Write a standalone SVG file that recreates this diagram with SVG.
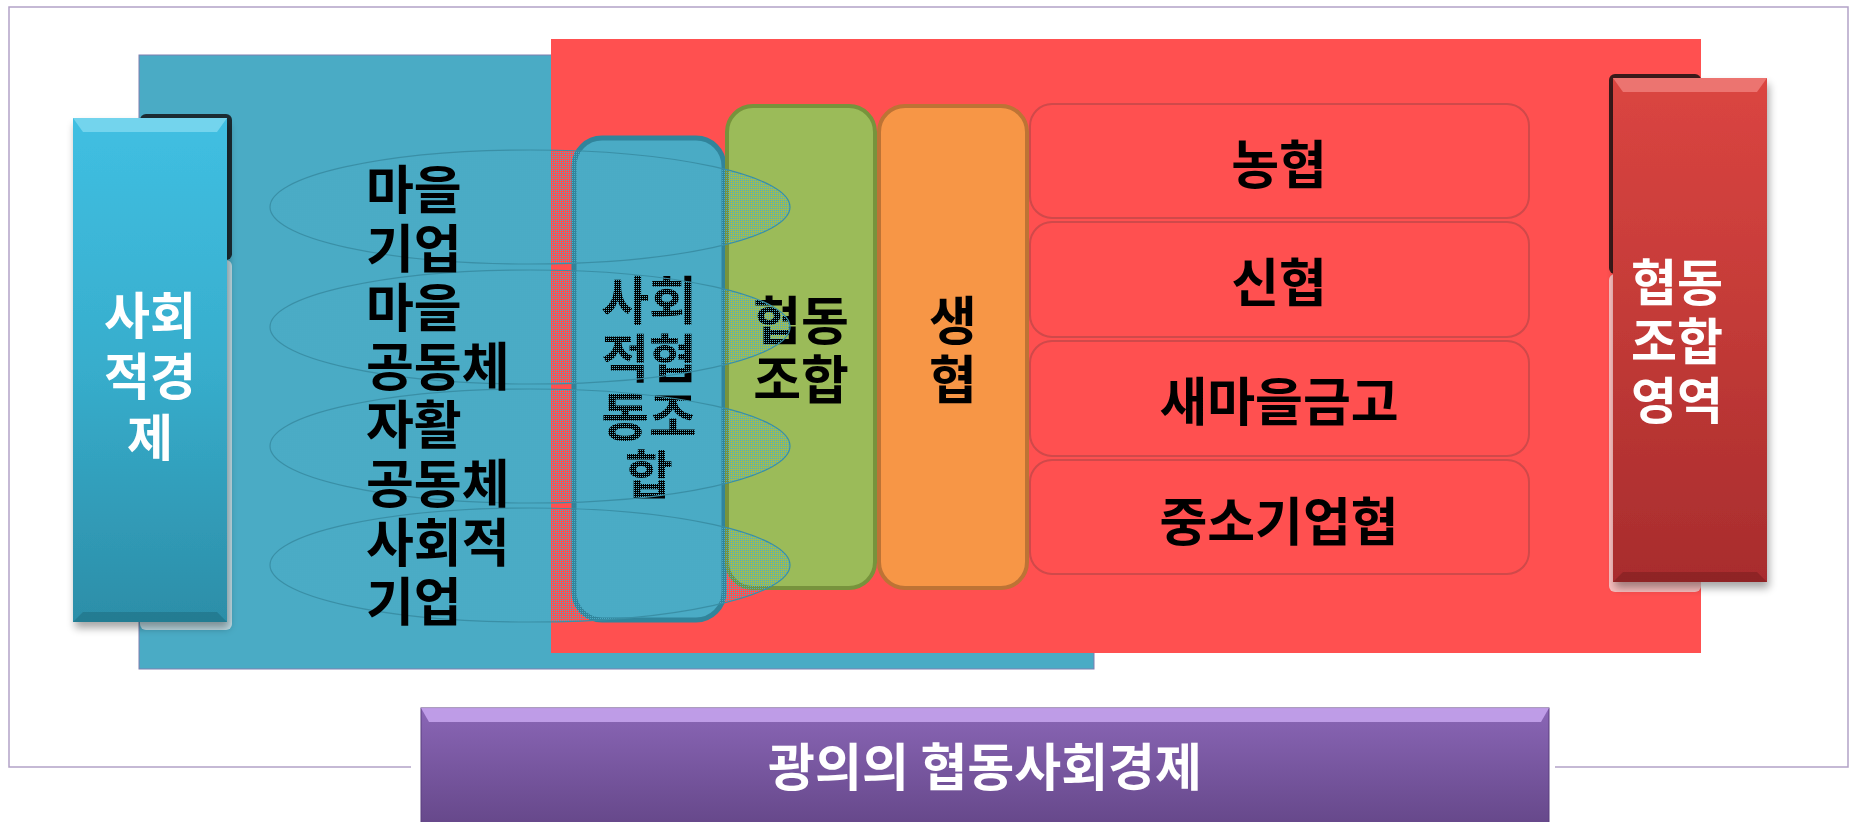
<svg xmlns="http://www.w3.org/2000/svg" width="1851" height="822" viewBox="0 0 1851 822">
<defs>
<style>
.k{font-family:"Noto Sans CJK KR","Noto Sans",sans-serif;font-weight:bold;font-size:52px;fill:#000}
.w{font-family:"Noto Sans CJK KR","Noto Sans",sans-serif;font-weight:bold;font-size:50px;fill:#fff}
.c{text-anchor:middle}
.box{fill:#FF5050;stroke:#D0494A;stroke-width:2}
.ell{fill:url(#dots);stroke:#3A8FA6;stroke-width:1.2}
</style>
<pattern id="dots" width="2" height="2" patternUnits="userSpaceOnUse">
<rect x="0" y="0" width="1" height="1" fill="#4BACC6"/>
</pattern>
<linearGradient id="gBlue" x1="0" y1="0" x2="0" y2="1">
<stop offset="0" stop-color="#40BFE2"/>
<stop offset="0.5" stop-color="#37ADCC"/>
<stop offset="1" stop-color="#2C8EA8"/>
</linearGradient>
<linearGradient id="gRed" x1="0" y1="0" x2="0" y2="1">
<stop offset="0" stop-color="#DB4541"/>
<stop offset="0.5" stop-color="#C23A37"/>
<stop offset="1" stop-color="#A82C2D"/>
</linearGradient>
<linearGradient id="gPur" x1="0" y1="0" x2="0" y2="1">
<stop offset="0" stop-color="#8A66B6"/>
<stop offset="1" stop-color="#654789"/>
</linearGradient>
<filter id="sh" x="-20%" y="-10%" width="140%" height="125%">
<feGaussianBlur in="SourceAlpha" stdDeviation="4"/>
<feOffset dx="2" dy="6"/>
<feComponentTransfer><feFuncA type="linear" slope="0.35"/></feComponentTransfer>
<feMerge><feMergeNode/><feMergeNode in="SourceGraphic"/></feMerge>
</filter>
</defs>

<!-- outer frame -->
<g id="frame" fill="none" stroke="#B3A2C7" stroke-width="1.5">
<path d="M411,767 H9 V7 H1848 V767 H1555"/>
</g>

<!-- background areas -->
<g id="bg-social">
<rect x="139" y="55" width="955" height="614" fill="#4AABC5" stroke="#7F7FB0" stroke-width="1"/>
</g>
<g id="bg-coop">
<rect x="551" y="39" width="1150" height="614" fill="#FF5050"/>
</g>

<!-- left bar: 사회적경제 -->
<g id="social-economy">
<rect x="140" y="114" width="92" height="146" rx="6" fill="#1B2C33"/>
<rect x="140" y="260" width="92" height="370" rx="6" fill="#DCE9EC" opacity="0.8"/>
<rect x="73" y="118" width="154" height="504" fill="url(#gBlue)" filter="url(#sh)"/>
<polygon points="73,118 227,118 217,132 83,132" fill="#7FD9F0" opacity="0.8"/>
<polygon points="73,622 227,622 217,612 83,612" fill="#1F6F84" opacity="0.6"/>
<text class="w c" x="150" y="334">사회</text>
<text class="w c" x="150" y="395">적경</text>
<text class="w c" x="150" y="456">제</text>
</g>

<!-- 사회적협동조합 -->
<g id="social-coop">
<rect x="574" y="138" width="150" height="482" rx="28" fill="#4AABC5" stroke="#31849B" stroke-width="5"/>
<text class="k c" x="649" y="320">사회</text>
<text class="k c" x="649" y="378">적협</text>
<text class="k c" x="649" y="436">동조</text>
<text class="k c" x="649" y="494">합</text>
</g>

<!-- 협동조합 -->
<g id="coop">
<rect x="727" y="106" width="148" height="482" rx="26" fill="#9BBB59" stroke="#77933C" stroke-width="4"/>
<text class="k c" x="801" y="340">협동</text>
<text class="k c" x="801" y="399">조합</text>
</g>

<!-- 생협 -->
<g id="consumer-coop">
<rect x="879" y="106" width="148" height="482" rx="26" fill="#F79646" stroke="#BD7335" stroke-width="4"/>
<text class="k c" x="953" y="340">생</text>
<text class="k c" x="953" y="399">협</text>
</g>

<!-- coop list -->
<g id="nonghyup"><rect class="box" x="1030" y="104" width="499" height="114" rx="22"/><text class="k c" x="1279" y="184">농협</text></g>
<g id="shinhyup"><rect class="box" x="1030" y="222" width="499" height="115" rx="22"/><text class="k c" x="1279" y="302">신협</text></g>
<g id="saemaeul"><rect class="box" x="1030" y="341" width="499" height="115" rx="22"/><text class="k c" x="1279" y="421">새마을금고</text></g>
<g id="sme-coop"><rect class="box" x="1030" y="460" width="499" height="114" rx="22"/><text class="k c" x="1279" y="541">중소기업협</text></g>

<!-- right bar: 협동조합영역 -->
<g id="coop-area">
<rect x="1609" y="74" width="92" height="200" rx="6" fill="#3A1A1A"/>
<rect x="1609" y="274" width="92" height="318" rx="6" fill="#F6D9D9" opacity="0.8"/>
<rect x="1613" y="78" width="154" height="504" fill="url(#gRed)" filter="url(#sh)"/>
<polygon points="1613,78 1767,78 1757,92 1623,92" fill="#F0807C" opacity="0.8"/>
<polygon points="1613,582 1767,582 1757,572 1623,572" fill="#7E1F1F" opacity="0.6"/>
<text class="w c" x="1677" y="301">협동</text>
<text class="w c" x="1677" y="360">조합</text>
<text class="w c" x="1677" y="419">영역</text>
</g>

<!-- grouping ellipses -->
<g id="ellipses">
<ellipse class="ell" cx="530" cy="207" rx="260" ry="57"/>
<ellipse class="ell" cx="530" cy="327" rx="260" ry="57"/>
<ellipse class="ell" cx="530" cy="446" rx="260" ry="57"/>
<ellipse class="ell" cx="530" cy="565" rx="260" ry="57"/>
</g>

<!-- social economy members -->
<g id="members">
<text class="k" x="366" y="209">마을</text>
<text class="k" x="366" y="268">기업</text>
<text class="k" x="366" y="327">마을</text>
<text class="k" x="366" y="386">공동체</text>
<text class="k" x="366" y="444">자활</text>
<text class="k" x="366" y="503">공동체</text>
<text class="k" x="366" y="562">사회적</text>
<text class="k" x="366" y="621">기업</text>
</g>

<!-- bottom title -->
<g id="broad-economy">
<rect x="421" y="708" width="1128" height="120" fill="url(#gPur)" stroke="#5A3F7E" stroke-width="1"/>
<polygon points="421,708 1549,708 1541,722 429,722" fill="#C8A6F0" opacity="0.85"/>
<text class="w c" x="985" y="786" style="font-size:51px">광의의 협동사회경제</text>
</g>
</svg>
